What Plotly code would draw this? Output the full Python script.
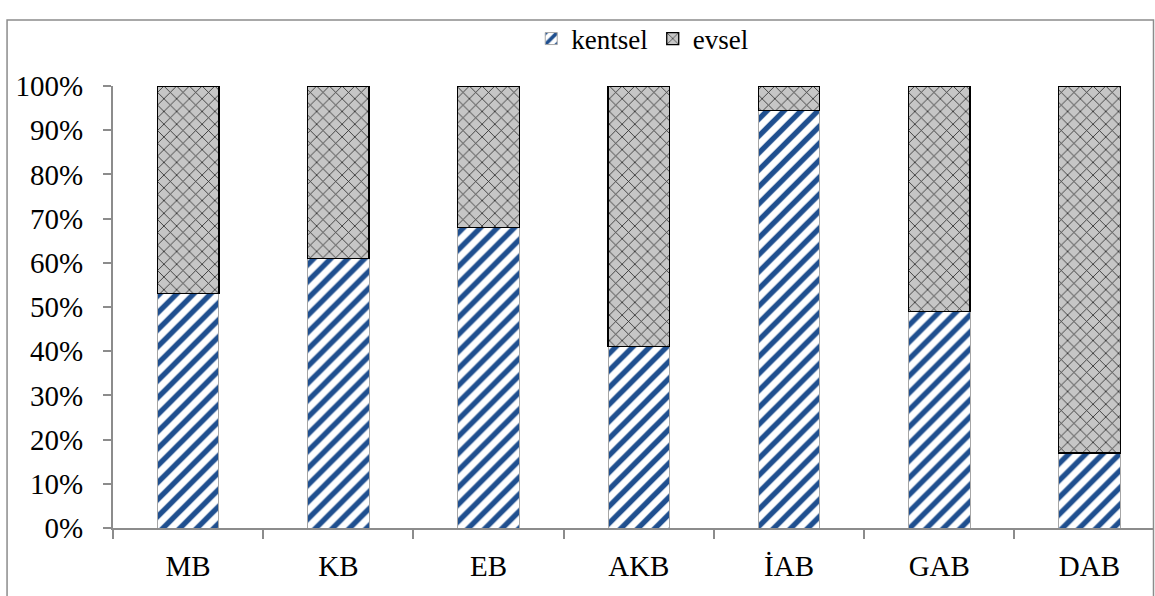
import plotly.graph_objects as go

# Share of each source per basin (fractions of 1)
categories = ["MB", "KB", "EB", "AKB", "İAB", "GAB", "DAB"]
kentsel = [0.53, 0.61, 0.68, 0.41, 0.945, 0.49, 0.17]
evsel = [round(1 - v, 3) for v in kentsel]
y_ticks = [i / 10 for i in range(11)]

FONT = "Liberation Serif"
AXIS = "#8c8c8c"
txt = dict(family=FONT, size=29, color="black")

fig = go.Figure()
fig.add_trace(go.Bar(
    x=categories, y=kentsel, name="kentsel", width=0.41,
    marker=dict(
        color="white",
        line=dict(color="#a6a6a6", width=1),
        pattern=dict(shape="/", fgcolor="#1f4f8f", bgcolor="white",
                     fgopacity=1, size=12, solidity=0.45),
    ),
))
fig.add_trace(go.Bar(
    x=categories, y=evsel, name="evsel", width=0.41,
    marker=dict(
        color="#c4c4c4",
        line=dict(color="black", width=1.3),
        pattern=dict(shape="x", fgcolor="#2e2e2e", bgcolor="#c6c6c6",
                     fgopacity=1, size=9, solidity=0.18),
    ),
))

# outer frame of the chart area
W, H = 1155, 596
L, R, T, B = 112.5, 2, 86, 68
pw, ph = W - L - R, H - T - B
fig.add_shape(type="rect", xref="paper", yref="paper",
              x0=(6.5 - L) / pw, x1=(1153.5 - L) / pw,
              y0=(H - T - 594.5) / ph, y1=(H - T - 2) / ph,
              line=dict(color=AXIS, width=1.5), layer="below")

fig.update_layout(
    width=W, height=H,
    barmode="stack",
    plot_bgcolor="white", paper_bgcolor="white",
    margin=dict(l=L, r=R, t=T, b=B, autoexpand=False),
    font=txt,
    legend=dict(orientation="h", x=(642 - L) / pw, xanchor="center",
                y=(H - B - 39) / ph, yanchor="middle",
                font=dict(family=FONT, size=27, color="black"),
                itemwidth=30, traceorder="normal",
                bgcolor="rgba(0,0,0,0)"),
    xaxis=dict(
        range=[-0.5, -0.5 + (1153 - L) / 150.3],
        showline=True, linecolor=AXIS, linewidth=2,
        ticks="outside", tickson="boundaries", ticklen=9,
        tickcolor=AXIS, tickwidth=2, showgrid=False,
        tickfont=txt, ticklabelstandoff=11,
    ),
    yaxis=dict(
        range=[0, 1], tickvals=y_ticks, tickformat=".0%",
        showline=True, linecolor=AXIS, linewidth=2,
        ticks="outside", ticklen=8, tickcolor=AXIS, tickwidth=2,
        showgrid=False, zeroline=False, tickfont=txt,
        ticklabelstandoff=14,
    ),
)

fig.write_html("out.html")
